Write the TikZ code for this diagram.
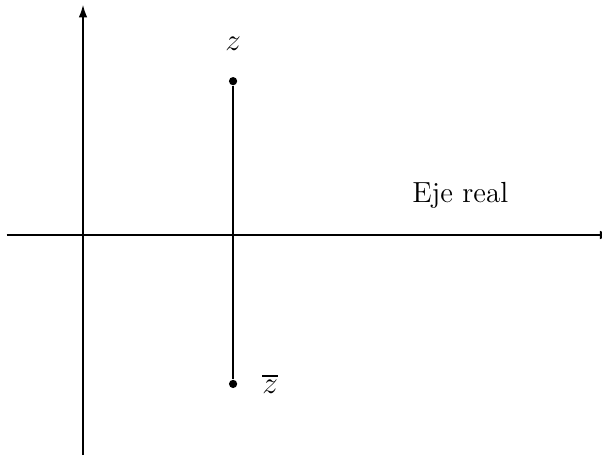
\documentclass[tikz,border=0pt]{standalone}
\usepackage{amsmath}
\usetikzlibrary{arrows.meta}

\begin{document}
\begin{tikzpicture}[
    x=0.6126cm, y=0.6126cm,
    axis/.style={-{Latex[length=6pt,width=4pt]}, line width=1pt},
    dot/.style={circle, fill=black, inner sep=0pt, minimum size=3.8pt},
    lbl/.style={font=\fontsize{13.4}{16}\selectfont},
  ]
    \useasboundingbox (-2.196,-5.873) rectangle (13.73,6.217);
    % axes
    \coordinate (xmin) at (-2.02,0);
    \coordinate (xmax) at (14.02,0);
    \coordinate (ymin) at (0,-5.82);
    \coordinate (ymax) at (0,6.1);
    \draw[axis] (xmin) -- (xmax);
    \draw[axis] (ymin) -- (ymax);
    % z and its conjugate
    \node[dot] (z)  at (3.97,4.07)  {};
    \node[dot] (zc) at (3.97,-3.94) {};
    \draw[line width=1pt] (z) -- (zc);
    \node[lbl] (zlab)  at (3.97,5.05)  {$z$};
    \node[lbl] (zclab) at (4.95,-3.94) {$\overline{z}$};
    \node[lbl] (eje)   at (9.98,1.05)  {Eje real};
  \end{tikzpicture}
\end{document}
